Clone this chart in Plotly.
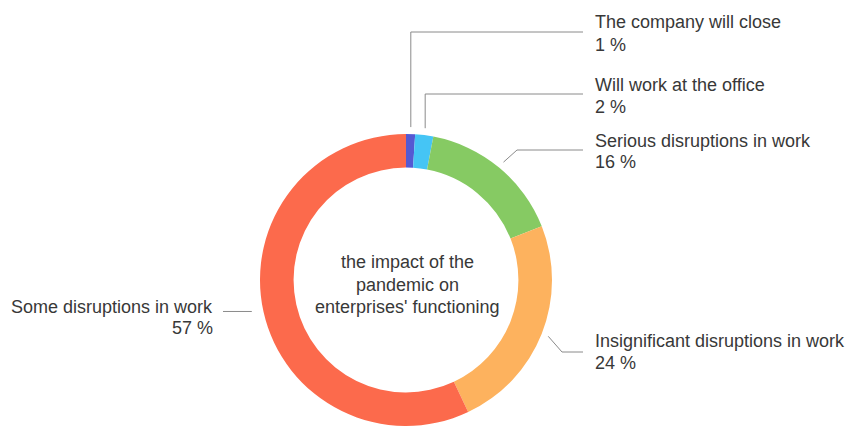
import math
import plotly.graph_objects as go

# ---- data ----
categories = ["The company will close", "Will work at the office",
              "Serious disruptions in work", "Insignificant disruptions in work",
              "Some disruptions in work"]
values = [1, 2, 16, 24, 57]
colors = ["#5559d2", "#45c5f5", "#86ca63", "#fdb25e", "#fc6a4c"]
center_title = "the impact of the<br>pandemic on<br>enterprises' functioning"

# ---- layout geometry (pixels) ----
W, H = 852, 428
CX, CY, R = 406, 280, 146
HOLE = 0.77
FONT = "Liberation Sans, Arial, Helvetica, sans-serif"
TXT = "#383838"
LINE = "#8a8a8a"

fig = go.Figure()
fig.add_trace(go.Pie(
    labels=categories, values=values, sort=False, direction="clockwise",
    rotation=0, hole=HOLE, textinfo="none", hoverinfo="label+percent",
    marker=dict(colors=colors, line=dict(width=0)),
    domain=dict(x=[(CX - R) / W, (CX + R) / W],
                y=[(H - CY - R) / H, (H - CY + R) / H]),
    showlegend=False,
))

# anchor points on the ring computed from the data
total = sum(values)
anchors = []
cum = 0
for v in values:
    mid = (cum + v / 2) / total * 2 * math.pi
    cum += v
    anchors.append(mid)

def pt(angle, r):
    return CX + r * math.sin(angle), CY - r * math.cos(angle)

# label placement
label_cfg = [
    dict(x=593, y1=22, y2=45, align="left", gap=7, kind="vert", ly=32, lx=583),
    dict(x=593, y1=85, y2=107, align="left", gap=7, kind="vert", ly=94, lx=583),
    dict(x=593, y1=141, y2=162, align="left", gap=7, kind="elbow", ly=150, ex=517, lx=583),
    dict(x=593, y1=341, y2=363, align="left", gap=7, kind="elbow", ly=352, ex=562, lx=583),
    dict(x=215, y1=307, y2=328, align="right", gap=12, kind="horiz", lx=223),
]

for i, cfg in enumerate(label_cfg):
    ax, ay = pt(anchors[i], R + cfg["gap"])
    if cfg["kind"] == "vert":
        xs, ys = [ax, ax, cfg["lx"]], [ay, cfg["ly"], cfg["ly"]]
    elif cfg["kind"] == "elbow":
        xs, ys = [ax, cfg["ex"], cfg["lx"]], [ay, cfg["ly"], cfg["ly"]]
    else:
        xs, ys = [ax, cfg["lx"]], [ay - 3, ay - 3]
    fig.add_trace(go.Scatter(x=xs, y=ys, mode="lines", line=dict(color=LINE, width=1),
                             hoverinfo="skip", showlegend=False,
                             xaxis="x", yaxis="y"))
    anchor = "left" if cfg["align"] == "left" else "right"
    fig.add_annotation(x=cfg["x"], y=cfg["y1"], text=categories[i], showarrow=False,
                       xanchor=anchor, yanchor="middle", xref="x", yref="y",
                       font=dict(family=FONT, size=18, color=TXT))
    fig.add_annotation(x=cfg["x"], y=cfg["y2"], text=f"{values[i]} %", showarrow=False,
                       xanchor=anchor, yanchor="middle", xref="x", yref="y",
                       font=dict(family=FONT, size=18, color=TXT))

# centre text
for j, line in enumerate(center_title.split("<br>")):
    fig.add_annotation(x=CX + 1, y=262 + j * 22.5, text=line, showarrow=False,
                       xanchor="center", yanchor="middle", xref="x", yref="y",
                       font=dict(family=FONT, size=18, color=TXT))

fig.update_layout(
    width=W, height=H, margin=dict(l=0, r=0, t=0, b=0, pad=0),
    paper_bgcolor="white", plot_bgcolor="rgba(0,0,0,0)",
    xaxis=dict(range=[0, W], visible=False, fixedrange=True, domain=[0, 1]),
    yaxis=dict(range=[H, 0], visible=False, fixedrange=True, domain=[0, 1]),
)

fig.write_html("out.html")
